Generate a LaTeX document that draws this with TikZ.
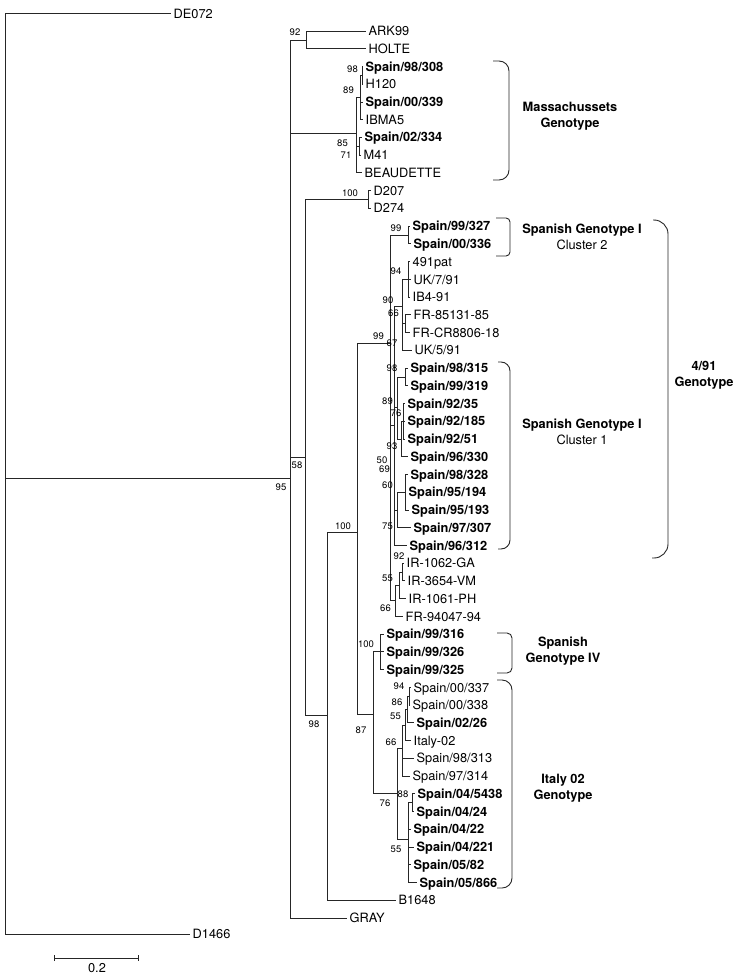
\documentclass[tikz,border=0pt]{standalone}
\usepackage{fontspec}
\setmainfont{TeX Gyre Heros}
\usetikzlibrary{arrows.meta}
\newcommand\leaffont{\fontsize{12.8}{16}\selectfont}
\newcommand\bootfont{\fontsize{9.5}{10}\selectfont}

\begin{document}
\begin{tikzpicture}[x=1pt,y=-1pt,
    br/.style={line width=0.9pt,black!85},
    leaf/.style={anchor=west,inner xsep=2.5pt,inner ysep=0pt,
                 text height=9.2pt,text depth=0pt,font=\leaffont},
    sp/.style={leaf,font=\leaffont\bfseries},
    bs/.style={inner sep=0pt,font=\bootfont},
    brk/.style={line width=0.9pt,black!85},
    grp/.style={align=center,font=\leaffont}]
  \useasboundingbox (0,0) rectangle (738,976);

  % leaves
  \node[leaf] (de072) at (171,13.5) {DE072};
  \node[leaf] (ark) at (366,31) {ARK99};
  \node[leaf] (holte) at (366,48.7) {HOLTE};
  \node[sp] (m308) at (363,66.5) {Spain/98/308};
  \node[leaf] (h120) at (363,84.2) {H120};
  \node[sp] (m339) at (363,102) {Spain/00/339};
  \node[leaf] (ibma) at (363,119.7) {IBMA5};
  \node[sp] (m334) at (362,137.4) {Spain/02/334};
  \node[leaf] (m41) at (361,155.2) {M41};
  \node[leaf] (beau) at (362,172.9) {BEAUDETTE};
  \node[leaf] (d207) at (371,190.7) {D207};
  \node[leaf] (d274) at (371,208.4) {D274};
  \node[sp] (c327) at (410,226.1) {Spain/99/327};
  \node[sp] (c336) at (411,243.9) {Spain/00/336};
  \node[leaf] (p491) at (410,261.6) {491pat};
  \node[leaf] (uk7) at (411,279.4) {UK/7/91};
  \node[leaf] (ib4) at (410,297.1) {IB4-91};
  \node[leaf] (fr85) at (411,314.8) {FR-85131-85};
  \node[leaf] (frcr) at (410,332.6) {FR-CR8806-18};
  \node[leaf] (uk5) at (412,350.3) {UK/5/91};
  \node[sp] (s315) at (408,368.1) {Spain/98/315};
  \node[sp] (s319) at (408,385.8) {Spain/99/319};
  \node[sp] (s35) at (405,403.5) {Spain/92/35};
  \node[sp] (s185) at (405,421.3) {Spain/92/185};
  \node[sp] (s51) at (405,439) {Spain/92/51};
  \node[sp] (s330) at (408,456.8) {Spain/96/330};
  \node[sp] (s328) at (408,474.5) {Spain/98/328};
  \node[sp] (s194) at (406,492.2) {Spain/95/194};
  \node[sp] (s193) at (409,510) {Spain/95/193};
  \node[sp] (s307) at (411,527.7) {Spain/97/307};
  \node[sp] (s312) at (407,545.5) {Spain/96/312};
  \node[leaf] (ir62) at (404,563.2) {IR-1062-GA};
  \node[leaf] (ir54) at (405,580.9) {IR-3654-VM};
  \node[leaf] (ir61) at (406,598.7) {IR-1061-PH};
  \node[leaf] (fr94) at (403,616.4) {FR-94047-94};
  \node[sp] (s316) at (384,634.2) {Spain/99/316};
  \node[sp] (s326) at (384,651.9) {Spain/99/326};
  \node[sp] (s325) at (384,669.6) {Spain/99/325};
  \node[leaf] (s337) at (411,687.4) {Spain/00/337};
  \node[leaf] (s338) at (410,705.1) {Spain/00/338};
  \node[sp] (s26) at (414,722.9) {Spain/02/26};
  \node[leaf] (italy) at (411,740.6) {Italy-02};
  \node[leaf] (s313) at (414,758.3) {Spain/98/313};
  \node[leaf] (s314) at (410,776.1) {Spain/97/314};
  \node[sp] (s5438) at (415,793.8) {Spain/04/5438};
  \node[sp] (s24) at (414,811.6) {Spain/04/24};
  \node[sp] (s22) at (411,829.3) {Spain/04/22};
  \node[sp] (s221) at (414,847) {Spain/04/221};
  \node[sp] (s82) at (411,864.8) {Spain/05/82};
  \node[sp] (s866) at (417,882.5) {Spain/05/866};
  \node[leaf] (b1648) at (396,900.3) {B1648};
  \node[leaf] (gray) at (347,918) {GRAY};
  \node[leaf] (d1466) at (190,934) {D1466};

  % internal nodes
  \coordinate (root) at (5,478);
  \coordinate (core) at (290,478);
  \coordinate (n92) at (306,40);
  \coordinate (mass) at (356,133);
  \coordinate (n89) at (360,97);
  \coordinate (n98) at (362,75.3);
  \coordinate (n71) at (359,146.3);
  \coordinate (n58) at (305,457);
  \coordinate (dd) at (368,199.5);
  \coordinate (n98b) at (327,715);
  \coordinate (n100) at (357,532);
  \coordinate (g491) at (390,343);
  \coordinate (cl2) at (408,235);
  \coordinate (cl1) at (394,425);
  \coordinate (n90) at (402,306);
  \coordinate (n94) at (408,279.4);
  \coordinate (nfr) at (405,323.7);
  \coordinate (c89) at (397,407);
  \coordinate (c98) at (405,377);
  \coordinate (c93) at (401,439);
  \coordinate (c76) at (403,421.3);
  \coordinate (c69) at (397,510);
  \coordinate (c60) at (405,492.2);
  \coordinate (r66) at (395,600);
  \coordinate (r55) at (399,585);
  \coordinate (r92) at (402,572);
  \coordinate (n87) at (373,714);
  \coordinate (sp4) at (380,651.9);
  \coordinate (it) at (397,793);
  \coordinate (i66) at (402,748);
  \coordinate (i55a) at (405,725);
  \coordinate (i86) at (407,709);
  \coordinate (i94) at (409,696);
  \coordinate (i55b) at (408,839);
  \coordinate (i88) at (412,802.7);

  % branches
  \draw[br] (root) |- (de072.west) (root) |- (core) (root) |- (d1466.west);
  \draw[br] (core) |- (n92) (core) |- (mass) (core) |- (n58) (core) |- (gray.west);
  \draw[br] (n92) |- (ark.west) (n92) |- (holte.west);
  \draw[br] (mass) |- (n89) (mass) |- (n71) (mass) |- (beau.west);
  \draw[br] (n89) |- (n98) (n89) |- (m339.west) (n89) |- (ibma.west);
  \draw[br] (n98) |- (m308.west) (n98) |- (h120.west);
  \draw[br] (n71) |- (m334.west) (n71) |- (m41.west);
  \draw[br] (n58) |- (dd) (n58) |- (n98b);
  \draw[br] (dd) |- (d207.west) (dd) |- (d274.west);
  \draw[br] (n98b) |- (n100) (n98b) |- (b1648.west);
  \draw[br] (n100) |- (g491) (n100) |- (n87);
  \draw[br] (g491) |- (cl2) (g491) |- (cl1) (g491) |- (r66);
  \draw[br] (cl2) |- (c327.west) (cl2) |- (c336.west);
  \draw[br] (cl1) |- (n90) (cl1) |- (c89) (cl1) |- (c69) (cl1) |- (s312.west);
  \draw[br] (n90) |- (n94) (n90) |- (nfr) (n90) |- (uk5.west);
  \draw[br] (n94) |- (p491.west) (n94) |- (uk7.west) (n94) |- (ib4.west);
  \draw[br] (nfr) |- (fr85.west) (nfr) |- (frcr.west);
  \draw[br] (c89) |- (c98) (c89) |- (c93);
  \draw[br] (c98) |- (s315.west) (c98) |- (s319.west);
  \draw[br] (c93) |- (c76) (c93) |- (s330.west);
  \draw[br] (c76) |- (s35.west) (c76) |- (s185.west) (c76) |- (s51.west);
  \draw[br] (c69) |- (c60) (c69) |- (s307.west);
  \draw[br] (c60) |- (s328.west) (c60) |- (s194.west) (c60) |- (s193.west);
  \draw[br] (r66) |- (r55) (r66) |- (fr94.west);
  \draw[br] (r55) |- (r92) (r55) |- (ir61.west);
  \draw[br] (r92) |- (ir62.west) (r92) |- (ir54.west);
  \draw[br] (n87) |- (sp4) (n87) |- (it);
  \draw[br] (sp4) |- (s316.west) (sp4) |- (s326.west) (sp4) |- (s325.west);
  \draw[br] (it) |- (i66) (it) |- (i55b);
  \draw[br] (i66) |- (i55a) (i66) |- (s313.west) (i66) |- (s314.west);
  \draw[br] (i55a) |- (i86) (i55a) |- (italy.west);
  \draw[br] (i86) |- (i94) (i86) |- (s26.west);
  \draw[br] (i94) |- (s337.west) (i94) |- (s338.west);
  \draw[br] (i55b) |- (i88) (i55b) |- (s22.west) (i55b) |- (s221.west)
            (i55b) |- (s82.west) (i55b) |- (s866.west);
  \draw[br] (i88) |- (s5438.west) (i88) |- (s24.west);

  % bootstrap values
  \node[bs] (bt92) at (295,32) {92};
  \node[bs] (bt98m) at (352.5,69) {98};
  \node[bs] (bt89m) at (348.5,90) {89};
  \node[bs] (bt85) at (342.5,143) {85};
  \node[bs] (bt71) at (346,155) {71};
  \node[bs] (bt100d) at (350,193) {100};
  \node[bs] (bt99c) at (396,228) {99};
  \node[bs] (bt94) at (396,271) {94};
  \node[bs] (bt90) at (388,300) {90};
  \node[bs] (bt66f) at (393.5,313) {66};
  \node[bs] (bt99g) at (378.5,336) {99};
  \node[bs] (bt67) at (392,343) {67};
  \node[bs] (bt98s) at (392,368) {98};
  \node[bs] (bt89s) at (387.5,401) {89};
  \node[bs] (bt76s) at (396,413) {76};
  \node[bs] (bt93) at (392,446) {93};
  \node[bs] (bt50) at (382,460) {50};
  \node[bs] (bt69) at (384.5,469.5) {69};
  \node[bs] (bt60) at (387.5,485) {60};
  \node[bs] (bt75) at (387.5,526) {75};
  \node[bs] (bt58) at (297,465) {58};
  \node[bs] (bt95) at (281,487) {95};
  \node[bs] (bt100b) at (343,526) {100};
  \node[bs] (bt92r) at (399,556) {92};
  \node[bs] (bt55r) at (387.5,578) {55};
  \node[bs] (bt66r) at (385.5,608) {66};
  \node[bs] (bt100s) at (366,644) {100};
  \node[bs] (bt94i) at (399,686) {94};
  \node[bs] (bt86) at (397,702) {86};
  \node[bs] (bt55i) at (395.5,716.5) {55};
  \node[bs] (bt98b) at (314,724) {98};
  \node[bs] (bt87) at (361,730) {87};
  \node[bs] (bt66i) at (391,742) {66};
  \node[bs] (bt88) at (403,794) {88};
  \node[bs] (bt76i) at (385,803) {76};
  \node[bs] (bt55b) at (396,849) {55};

  % group brackets
  \draw[brk,rounded corners=10pt] (493,61) -- (509,61) -- (509,180) -- (493,180);
  \draw[brk,rounded corners=4pt] (496,218) -- (510,218) -- (510,256) -- (496,256);
  \draw[brk,rounded corners=9pt] (498,362) -- (510,362) -- (510,549) -- (498,549);
  \draw[brk,rounded corners=14pt] (653,220) -- (668,220) -- (668,558) -- (652,558);
  \draw[brk,rounded corners=5pt] (497,633) -- (512,633) -- (512,673) -- (497,673);
  \draw[brk,rounded corners=10pt] (497,680) -- (512,680) -- (512,888) -- (497,888);
  \node[grp] (gmass) at (570,116) {\textbf{Massachussets}\\\textbf{Genotype}};
  \node[grp] (gcl2) at (582,237) {\textbf{Spanish Genotype I}\\Cluster 2};
  \node[grp] (gcl1) at (582,432) {\textbf{Spanish Genotype I}\\Cluster 1};
  \node[grp] (g491t) at (704,375) {\textbf{4/91}\\\textbf{Genotype}};
  \node[grp] (gsp4) at (563,651) {\textbf{Spanish}\\\textbf{Genotype IV}};
  \node[grp] (gita) at (563,788) {\textbf{Italy 02}\\\textbf{Genotype}};

  % scale bar
  \coordinate (sbl) at (54,958);
  \coordinate (sbr) at (139,958);
  \draw[br,{Bar[width=6pt]}-{Bar[width=6pt]}] (sbl) -- (sbr);
  \node[font=\leaffont,inner sep=0pt] (sblab) at (97,968.5) {0.2};
\end{tikzpicture}
\end{document}
